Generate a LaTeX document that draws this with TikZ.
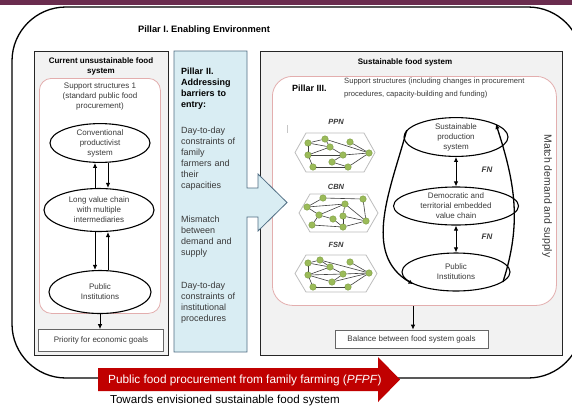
\documentclass[tikz,border=0pt]{standalone}
\usepackage{fontspec}
\setmainfont{Liberation Sans}
\usetikzlibrary{shapes.geometric,arrows.meta,calc}
\definecolor{maroon}{HTML}{6A2C4E}
\definecolor{boxgray}{HTML}{F2F2F2}
\definecolor{pinkline}{HTML}{E3AEAE}
\definecolor{bluefill}{HTML}{D9EDF3}
\definecolor{blueline}{HTML}{506E84}
\definecolor{redarrow}{HTML}{C00000}
\definecolor{textgray}{HTML}{3A3A3A}
\definecolor{greennode}{HTML}{9BBB59}
\definecolor{greenline}{HTML}{7A9A40}
\definecolor{hexgray}{HTML}{BDBDBD}
\definecolor{edgegray}{HTML}{404040}
\begin{document}
\begin{tikzpicture}[x=1pt,y=-1pt,
  txt/.style={font=\fontsize{8}{10}\selectfont, text=textgray, align=center, inner sep=0pt},
  hdr/.style={font=\fontsize{8}{10}\selectfont\bfseries, text=black, align=center, inner sep=0pt},
  bluetxt/.style={font=\fontsize{9}{11}\selectfont, text=textgray, align=left, inner sep=0pt, anchor=north west, text width=66pt},
  ell/.style={ellipse, draw=black, line width=1.1pt, fill=white, inner sep=0pt, align=center, font=\fontsize{8}{10}\selectfont, text=textgray},
  arr/.style={line width=0.9pt, -{Latex[length=5pt,width=4.5pt]}},
  darr/.style={line width=0.9pt, {Latex[length=5pt,width=4.5pt]}-{Latex[length=5pt,width=4.5pt]}},
  curvearr/.style={line width=1.3pt, -{Latex[length=5pt,width=4.5pt]}},
  gnode/.style={circle, fill=greennode, draw=greenline, line width=0.4pt, minimum size=6.5pt, inner sep=0pt},
  netedge/.style={draw=edgegray, line width=0.6pt},
  hexa/.style={draw=hexgray, line width=0.8pt, fill=white},
  goalbox/.style={draw=black!60, line width=0.7pt, fill=white, inner sep=0pt, font=\fontsize{8}{10}\selectfont, text=textgray},
  fnlab/.style={font=\fontsize{8}{10}\selectfont\bfseries\itshape, text=textgray, inner sep=0pt}
]
\useasboundingbox (0,0) rectangle (572,408);
\clip (0,0) rectangle (572,408);
\fill[white] (0,0) rectangle (572,408);
% top bar
\fill[maroon] (0,0) rectangle (572,5);
% outer rounded environment
\draw[line width=1.3pt, rounded corners=54pt] (12,7) rectangle (582,378);
\node[font=\fontsize{9.3}{11}\selectfont\bfseries, inner sep=0pt] (p1title) at (204,30) {Pillar I. Enabling Environment};

% ---------- left column ----------
\node[draw=black!85, line width=1.3pt, fill=boxgray, minimum width=134pt, minimum height=304pt, anchor=north west, inner sep=0pt] (lbox) at (34,51) {};
\node[draw=pinkline, line width=0.8pt, fill=white, rounded corners=12pt, minimum width=121pt, minimum height=235pt, anchor=north west, inner sep=0pt] (lpink) at (39,78) {};
\node[hdr] (ltitle) at (101,66.5) {Current unsustainable food\\system};
\node[txt] (lsupport) at (100,97) {Support structures 1\\(standard public food\\procurement)};
\node[ell, minimum width=100pt, minimum height=37pt] (conv) at (100,143) {Conventional\\productivist\\system};
\node[ell, minimum width=110pt, minimum height=43pt] (lvc) at (99,210) {Long value chain\\with multiple\\intermediaries};
\node[ell, minimum width=102pt, minimum height=43pt] (pub1) at (100,292) {Public\\Institutions};
\node[goalbox, minimum width=125pt, minimum height=22pt] (prio) at (101,340.5) {Priority for economic goals};
\draw[arr] ([xshift=-5pt]conv.south |- lvc.north) -- ([xshift=-5pt]conv.south);
\draw[arr] ([xshift=8pt]conv.south) -- ([xshift=8pt]conv.south |- lvc.north);
\draw[arr] ([xshift=-5pt]conv.south |- lvc.south) -- ([xshift=-5pt]conv.south |- pub1.north);
\draw[arr] ([xshift=8pt]conv.south |- pub1.north) -- ([xshift=8pt]conv.south |- lvc.south);
\draw[arr] (pub1.south) -- (pub1.south |- prio.north);

% ---------- right column (drawn before the blue arrow) ----------
\node[draw=black!85, line width=1.3pt, fill=boxgray, minimum width=302pt, minimum height=304pt, anchor=north west, inner sep=0pt] (rbox) at (260,51) {};
\node[draw=pinkline, line width=0.8pt, fill=white, rounded corners=20pt, minimum width=284pt, minimum height=229pt, anchor=north west, inner sep=0pt] (rpink) at (272,76) {};
\node[hdr] (rtitle) at (405,62) {Sustainable food system};
\node[font=\fontsize{9}{11}\selectfont\bfseries, inner sep=0pt, anchor=west] (p3) at (292,88) {Pillar III.};
\node[font=\fontsize{7.6}{13}\selectfont, text=textgray, align=left, inner sep=0pt, anchor=west] (p3txt) at (344,88) {Support structures (including changes in procurement\\procedures, capacity-building and funding)};
\draw[gray!45, line width=0.8pt] (287,125) -- (287,133);

% networks
\node[font=\fontsize{7.5}{9}\selectfont\bfseries\itshape, text=textgray, inner sep=0pt] (ppnlab) at (336,122) {PPN};
\node[font=\fontsize{7.5}{9}\selectfont\bfseries\itshape, text=textgray, inner sep=0pt] (cbnlab) at (336,187) {CBN};
\node[font=\fontsize{7.5}{9}\selectfont\bfseries\itshape, text=textgray, inner sep=0pt] (fsnlab) at (336,245) {FSN};
\draw[hexa] (295,152.5) -- (306,133) -- (364,133) -- (375,152.5) -- (364,172) -- (306,172) -- cycle;
\draw[hexa] (299,213) -- (310,194) -- (367,194) -- (378,213) -- (367,232) -- (310,232) -- cycle;
\draw[hexa] (295,273.5) -- (306,255) -- (366,255) -- (377,273.5) -- (366,292) -- (306,292) -- cycle;

\foreach \n/\x/\y in {p1/308/143, p2/325/139, p3/330/147, p4/350/142, p5/308/155, p6/343/155, p7/369/153, p8/332/162, p9/313/167, p10/348/167,
  c1/323/198, c2/363/199, c3/307/207, c4/345/204, c5/319/215, c6/343/216, c7/333/219, c8/366/221, c9/312/225, c10/343/227,
  f1/308/263, f2/320/260, f3/350/262, f4/330/267, f5/308/275, f6/343/274, f7/369/273, f8/332/282, f9/313/287, f10/348/287}
  \node[gnode] (\n) at (\x,\y) {};
\foreach \a/\b in {p1/p2, p1/p3, p2/p3, p2/p7, p4/p7, p1/p5, p5/p3, p5/p6, p3/p6, p6/p7, p9/p10, p10/p7, p8/p10, p8/p6, p5/p9,
  c1/c2, c3/c1, c3/c4, c4/c6, c4/c8, c2/c8, c3/c5, c5/c4, c5/c7, c5/c9, c6/c8, c7/c10, c9/c10, c10/c8, c6/c10,
  f1/f2, f2/f4, f1/f4, f2/f7, f3/f7, f1/f5, f5/f4, f5/f6, f4/f6, f6/f7, f5/f8, f8/f6, f9/f10, f10/f7, f5/f9, f8/f7}
  \draw[netedge] (\a) -- (\b);

% right ellipses
\node[ell, minimum width=104pt, minimum height=37pt] (sps) at (456,137) {Sustainable\\production\\system};
\node[ell, minimum width=125pt, minimum height=38pt] (dem) at (456,206) {Democratic and\\territorial embedded\\value chain};
\node[ell, minimum width=108pt, minimum height=38pt] (pub2) at (456,272) {Public\\Institutions};
\draw[darr] (sps.south) -- (dem.north);
\draw[darr] (dem.south) -- (pub2.north);
\node[fnlab] (fn1) at (487,170) {FN};
\node[fnlab] (fn2) at (487,237) {FN};
\draw[curvearr] (sps.172) to[out=255, in=150] (pub2.196);
\draw[curvearr] (pub2.-12) to[out=72, in=-72] (sps.18);
\node[font=\fontsize{10.5}{12}\selectfont, text=textgray, rotate=-90, inner sep=0pt] (match) at (547,196) {Match demand and supply};
\node[goalbox, minimum width=153pt, minimum height=18pt] (bal) at (411.5,339) {Balance between food system goals};
\draw[arr] (rpink.south -| 413,0) -- (bal.north -| 413,0);

% ---------- Pillar II blue arrow ----------
\draw[fill=bluefill, draw=blueline, line width=0.8pt]
  (174,51) -- (247,51) -- (247,188) -- (258,188) -- (258,174) -- (287,202.5) -- (258,231) -- (258,217) -- (247,217) -- (247,352) -- (174,352) -- cycle;
\node[bluetxt, font=\fontsize{9}{11}\selectfont\bfseries, text=black] (p2a) at (181,67.5) {Pillar II.\\Addressing\\barriers to\\entry:};
\node[bluetxt] (p2b) at (181,126.5) {Day-to-day\\constraints of\\family\\farmers and\\their\\capacities};
\node[bluetxt] (p2c) at (181,215.5) {Mismatch\\between\\demand and\\supply};
\node[bluetxt] (p2d) at (181,281.5) {Day-to-day\\constraints of\\institutional\\procedures};

% ---------- red bottom arrow ----------
\draw[fill=redarrow, draw=none] (98,368) -- (378,368) -- (378,357) -- (400,379.5) -- (378,402) -- (378,391) -- (98,391) -- cycle;
\node[font=\fontsize{11.8}{13}\selectfont, text=white, anchor=west, inner sep=0pt] (pfpf) at (108,380) {Public food procurement from family farming (\textit{PFPF})};
\node[font=\fontsize{11.6}{13}\selectfont, text=black, anchor=west, inner sep=0pt] (towards) at (110,400) {Towards envisioned sustainable food system};
\end{tikzpicture}
\end{document}
